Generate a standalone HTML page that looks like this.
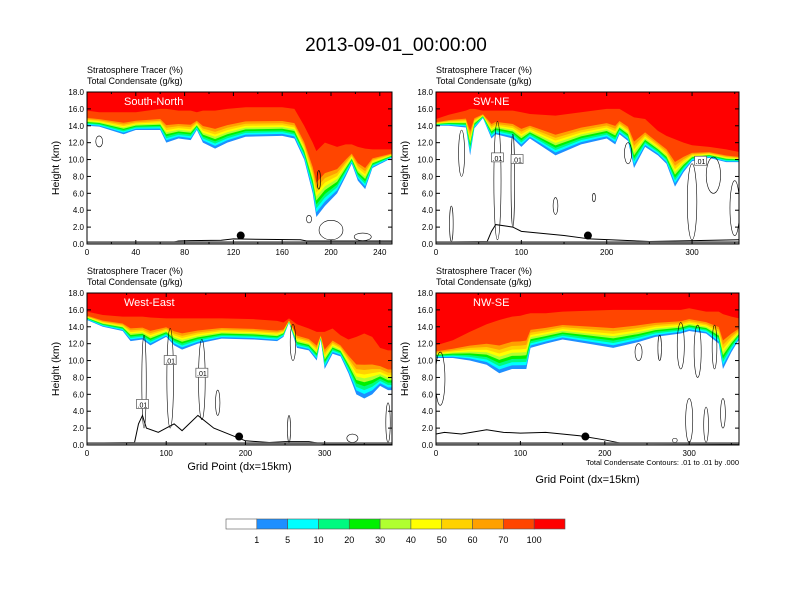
<!DOCTYPE html>
<html><head><meta charset="utf-8"><style>
body{margin:0;background:#fff;width:792px;height:612px;overflow:hidden;font-family:"Liberation Sans",sans-serif}
svg{display:block}
text{font-family:"Liberation Sans",sans-serif;fill:#000}
</style></head><body>
<svg id="fig" width="792" height="612" viewBox="0 0 792 612">
<text x="396" y="51" font-size="19" text-anchor="middle">2013-09-01_00:00:00</text>
</svg>
<script>
// ---- data ----
const levels = ["1","5","10","20","30","40","50","60","70","100"];
const colors = ["#ffffff","#1e8fff","#00ffff","#00fa80","#00f000","#b0ff30","#ffff00","#ffd200","#ffa000","#ff4500","#ff0000"];
const bandFrac = [0,0.07,0.13,0.19,0.25,0.31,0.37,0.44,0.52,1];
const p1X=[0,10,30,40,60,65,75,85,90,95,105,115,130,160,170,178,185,188,195,205,212,217,222,228,234,250];
const p1Base=[14.0,13.9,13.0,13.5,13.5,12.0,12.5,12.3,13.5,12.0,11.3,12.0,12.7,12.8,12.5,10.0,6.0,3.2,4.5,6.0,8.0,9.5,7.5,6.5,9.0,10.2];
const p1Red=[15.8,15.6,15.6,15.6,16.0,16.0,15.8,15.8,15.6,15.8,15.8,16.0,16.2,16.2,16.0,14.0,12.0,11.0,12.0,11.5,11.8,11.8,11.5,11.3,11.2,11.2];
const p2X=[0,15,35,40,45,55,65,70,90,100,110,140,170,200,210,215,225,232,245,260,270,280,290,300,320,340,355];
const p2Base=[14.0,14.0,13.8,10.5,13.7,14.9,12.5,13.0,12.5,11.5,12.5,10.5,11.8,12.5,11.8,13.0,12.2,9.0,11.5,10.5,9.5,6.8,8.5,9.8,10.2,9.7,9.7];
const p2Red=[14.8,15.3,15.8,16.0,16.0,15.8,15.8,15.8,15.8,15.6,15.4,15.2,15.6,16.0,16.0,16.0,15.4,15.0,14.8,13.4,12.8,12.4,12.0,11.7,11.5,11.2,10.9];
const p3X=[0,20,45,55,70,80,100,110,120,140,170,210,240,248,255,265,280,290,295,300,310,320,330,340,350,360,370,380,385];
const p3Base=[14.8,14.0,13.5,12.3,12.5,11.8,12.8,11.8,11.3,12.0,12.6,12.5,12.3,12.8,14.5,11.5,11.2,10.0,12.5,9.0,10.8,10.5,8.5,6.0,5.5,6.0,7.0,6.5,6.5];
const p3Red=[15.8,15.4,15.2,15.2,15.2,15.1,15.0,15.0,15.0,15.0,15.0,14.9,14.7,14.5,15.0,14.3,13.8,13.4,13.4,13.4,13.8,13.0,12.5,12.8,13.2,12.8,11.5,11.2,11.2];
const p4X=[0,20,40,60,75,90,100,107,112,130,150,180,210,240,260,290,300,320,335,340,350,359];
const p4Base=[10.3,10.3,10.0,9.5,8.5,9.0,9.0,9.0,11.5,12.0,12.5,12.0,11.5,12.2,12.8,13.2,13.5,13.2,12.0,9.0,11.0,12.5];
const p4Red=[11.8,12.4,13.4,14.3,14.8,15.2,15.3,15.5,15.6,15.6,15.8,15.9,16.0,16.0,16.0,16.0,16.2,15.8,15.8,15.5,15.2,15.0];
const t1X=[0,70,75,85,110,120,175,180,250], t1H=[0.2,0.2,0.35,0.4,0.45,0.6,0.5,0.35,0.35];
const t2X=[0,60,65,70,90,100,150,180,250,355], t2H=[0.2,0.3,1.5,2.3,2.0,1.5,1.0,0.6,0.3,0.5];
const t3X=[0,60,65,70,75,90,100,110,120,140,160,200,230,250,280,300,385], t3H=[0.2,0.3,2.5,3.5,2.0,1.5,2.0,2.5,1.7,3.5,2.0,0.5,0.3,0.4,0.4,0.1,0.1];
const t4X=[0,10,30,60,80,100,130,170,200,220,359], t4H=[1.3,1.5,1.3,1.8,1.5,1.4,1.5,1.1,0.6,0.2,0.1];
// contour blobs: [center x, bottom km, top km, half-width grid]
const c1=[[10,11.5,12.8,4],[182,2.5,3.4,3],[200,0.5,2.8,14],[226,0.4,1.3,10],[190,6.5,8.7,2]];
const c2=[[18,0.3,4.5,3],[30,8,13.5,5],[72,0.5,14.5,6],[90,2,13,3],[140,3.5,5.5,4],[185,5,6,2],[225,9.5,12,6],[300,0.5,9.5,8],[325,6,10.3,12],[350,1,7.5,8]];
const c3=[[72,2,13,4],[105,2,13.8,6],[145,3,12.5,6],[165,3.5,6.5,4],[255,0.3,3.5,2],[260,10,14.3,5],[335,0.3,1.3,10],[380,0.3,5,4]];
const c4=[[5,4.7,11,8],[240,10,12,6],[265,10,13,3],[290,9,14.5,6],[310,8,14.2,6],[330,9,14.2,4],[300,0.3,5.5,6],[320,0.3,4.5,4],[340,2,5.5,4],[283,0.3,0.8,4]];
const labels1=[]; const labels2=[[72,10.2],[95,10.0],[310,9.8]]; const labels3=[[70,4.8],[105,10.0],[145,8.5]]; const labels4=[];
const yTicks=[0,2,4,6,8,10,12,14,16,18];
const panels=[
 {id:"south-north",title:"South-North",x0:87,x1:392,y0:92,y1:244,xmax:250,xt:[0,40,80,120,160,200,240],xm:[20,60,100,140,180,220],X:p1X,B:p1Base,R:p1Red,TX:t1X,TH:t1H,C:c1,L:labels1,dot:126,xlab:false},
 {id:"sw-ne",title:"SW-NE",x0:436,x1:739,y0:92,y1:244,xmax:355,xt:[0,100,200,300],xm:[50,150,250,350],X:p2X,B:p2Base,R:p2Red,TX:t2X,TH:t2H,C:c2,L:labels2,dot:178,xlab:false},
 {id:"west-east",title:"West-East",x0:87,x1:392,y0:293,y1:445,xmax:385,xt:[0,100,200,300],xm:[50,150,250,350],X:p3X,B:p3Base,R:p3Red,TX:t3X,TH:t3H,C:c3,L:labels3,dot:192,xlab:true},
 {id:"nw-se",title:"NW-SE",x0:436,x1:739,y0:293,y1:445,xmax:359,xt:[0,100,200,300],xm:[50,150,250,350],X:p4X,B:p4Base,R:p4Red,TX:t4X,TH:t4H,C:c4,L:labels4,dot:177,xlab:true,note:true}
];
const NS="http://www.w3.org/2000/svg";
const fig=document.getElementById('fig');
function mk(tag,attrs,parent){const e=document.createElementNS(NS,tag);for(const k in attrs)e.setAttribute(k,attrs[k]);(parent||fig).appendChild(e);return e;}
panels.forEach(p=>{
 const sx=v=>p.x0+(p.x1-p.x0)*v/p.xmax;
 const sy=v=>p.y1-(p.y1-p.y0)*v/18;
 const g=mk('g',{});
 
 
 const cp=mk('clipPath',{id:'cp-'+p.id},g);
 mk('rect',{x:p.x0,y:p.y0,width:p.x1-p.x0,height:p.y1-p.y0},cp);
 const fg=mk('g',{'clip-path':'url(#cp-'+p.id+')'},g);
 for(let k=0;k<bandFrac.length;k++){
  let d='M'+sx(0)+','+sy(18);
  p.X.forEach((x,i)=>{const h=p.B[i]+(p.R[i]-p.B[i])*bandFrac[k];d+=' L'+sx(x)+','+sy(h);});
  d+=' L'+sx(p.xmax)+','+sy(18)+' Z';
  const path=mk('path',{d:d,fill:colors[k+1]},fg);
  
  
 }
 p.C.forEach(c=>{
  const e=mk('ellipse',{cx:sx(c[0]),cy:sy((c[1]+c[2])/2),rx:Math.max(1.5,(sx(c[3])-sx(0))*0.7),ry:(sy(c[1])-sy(c[2]))/2,fill:'none',stroke:'#000','stroke-width':0.6},fg);
  
  
 });
 p.L.forEach(l=>{
  mk('rect',{x:sx(l[0])-6,y:sy(l[1])-5,width:12,height:9,fill:'#fff',stroke:'#555','stroke-width':0.7},fg);
  const t=mk('text',{x:sx(l[0]),y:sy(l[1])+3,'font-size':7,'text-anchor':'middle'},fg);t.textContent='.01';
  
  
 });
 let td='';p.TX.forEach((x,i)=>{td+=(i?' L':'M')+sx(x)+','+sy(p.TH[i]);});
 const tp=mk('path',{d:td,fill:'none',stroke:'#000','stroke-width':1},fg);
 
 
 mk('line',{x1:p.x0,x2:p.x1,y1:sy(0.2),y2:sy(0.2),stroke:'#666','stroke-width':2},fg);
 const dot=mk('circle',{cx:sx(p.dot),cy:sy(1.0),r:4,fill:'#000'},fg);
 
 
 mk('rect',{x:p.x0,y:p.y0,width:p.x1-p.x0,height:p.y1-p.y0,fill:'none',stroke:'#000','stroke-width':1},g);
 yTicks.forEach(v=>{
  mk('line',{x1:p.x0,x2:p.x0+4,y1:sy(v),y2:sy(v),stroke:'#000'},g);
  mk('line',{x1:p.x1,x2:p.x1-4,y1:sy(v),y2:sy(v),stroke:'#000'},g);
  const t=mk('text',{x:p.x0-3,y:sy(v)+3,'font-size':8,'text-anchor':'end'},g);t.textContent=v.toFixed(1);
  
  
 });
 p.xt.forEach(v=>{
  mk('line',{x1:sx(v),x2:sx(v),y1:p.y1,y2:p.y1-4,stroke:'#000'},g);
  mk('line',{x1:sx(v),x2:sx(v),y1:p.y0,y2:p.y0+4,stroke:'#000'},g);
  const t=mk('text',{x:sx(v),y:p.y1+11,'font-size':8,'text-anchor':'middle'},g);t.textContent=v;
  
  
 });
 p.xm.forEach(v=>{mk('line',{x1:sx(v),x2:sx(v),y1:p.y1,y2:p.y1-2,stroke:'#000'},g);mk('line',{x1:sx(v),x2:sx(v),y1:p.y0,y2:p.y0+2,stroke:'#000'},g);});
 const tt=mk('text',{x:p.x0+37,y:p.y0+13,'font-size':11,'fill':'#fff',style:'fill:#fff'},g);tt.textContent=p.title;
 
 
 const h1=mk('text',{x:p.x0,y:p.y0-19,'font-size':9},g);h1.textContent='Stratosphere Tracer   (%)';
 
 
 const h2=mk('text',{x:p.x0,y:p.y0-8,'font-size':9},g);h2.textContent='Total Condensate   (g/kg)';
 
 
 const ya=mk('text',{x:0,y:0,'font-size':10.5,'text-anchor':'middle',transform:'translate('+(p.x0-28)+','+((p.y0+p.y1)/2)+') rotate(-90)'},g);ya.textContent='Height (km)';
 
 
 if(p.note){const n=mk('text',{x:p.x1,y:p.y1+20,'font-size':7.5,'text-anchor':'end'},g);n.textContent='Total Condensate Contours: .01 to .01 by .000';
  
  }
 if(p.xlab){const xa=mk('text',{x:(p.x0+p.x1)/2,y:p.y1+(p.note?38:25),'font-size':11,'text-anchor':'middle'},g);xa.textContent='Grid Point (dx=15km)';
  
  }
});
const cb=mk('g',{});


const cbx=226,cbw=339/11;
colors.forEach((c,i)=>{
 const r=mk('rect',{x:cbx+i*cbw,y:519,width:cbw,height:10,fill:c,stroke:'#555','stroke-width':0.6},cb);
 
 
});
levels.forEach((l,i)=>{
 const t=mk('text',{x:cbx+(i+1)*cbw,y:543,'font-size':9,'text-anchor':'middle'},cb);t.textContent=l;
 
 
});
</script>
</body></html>
